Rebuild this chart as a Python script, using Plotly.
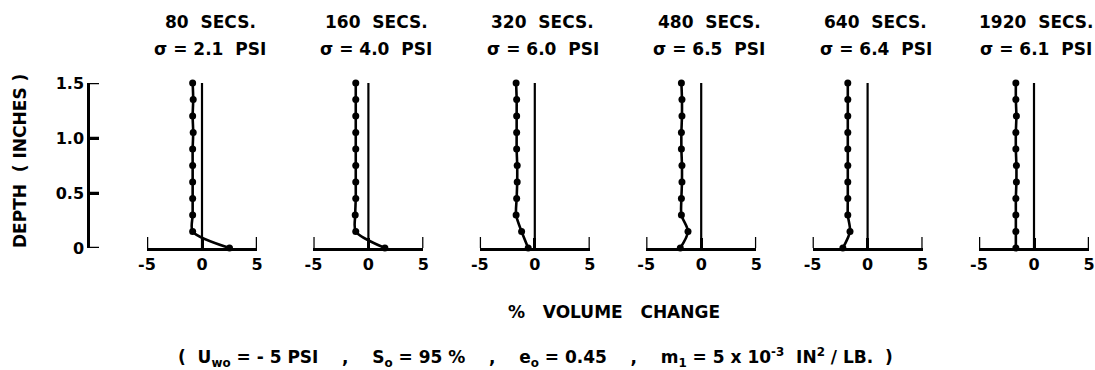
import plotly.graph_objects as go

W, H = 1095, 370

# ---- data ----
DEPTHS = [0.0, 0.15, 0.30, 0.45, 0.60, 0.75, 0.90, 1.05, 1.20, 1.35, 1.50]
TIMES = ["80", "160", "320", "480", "640", "1920"]
STRESS = ["2.1", "4.0", "6.0", "6.5", "6.4", "6.1"]

VOL_80 = [2.5, -0.85, -0.85, -0.85, -0.85, -0.85, -0.85, -0.8, -0.85, -0.8, -0.85]
VOL_160 = [1.5, -1.15, -1.2, -1.15, -1.15, -1.15, -1.15, -1.15, -1.15, -1.15, -1.15]
VOL_320 = [-0.6, -1.2, -1.7, -1.65, -1.6, -1.6, -1.65, -1.65, -1.65, -1.65, -1.7]
VOL_480 = [-1.9, -1.2, -1.8, -1.8, -1.75, -1.75, -1.8, -1.8, -1.75, -1.75, -1.8]
VOL_640 = [-2.25, -1.6, -1.8, -1.8, -1.8, -1.8, -1.8, -1.8, -1.8, -1.8, -1.8]
VOL_1920 = [-1.65, -1.65, -1.65, -1.65, -1.6, -1.6, -1.65, -1.65, -1.6, -1.65, -1.65]
SERIES = [VOL_80, VOL_160, VOL_320, VOL_480, VOL_640, VOL_1920]

REF_X = [0, 0]
REF_DEPTH = [0, 1.5]

X_TICKS = [-5, 0, 5]
X_TICK_TEXT = ["-5", "0", "5"]
Y_TICKS = [0, 0.5, 1.0, 1.5]
Y_TICK_TEXT = ["0", "0.5", "1.0", "1.5"]

# ---- layout geometry (pixels) ----
PANEL_LEFT0 = 147
PANEL_STEP = 166.4
PANEL_W = 110
Y_TOP_PX, Y_BOT_PX = 83, 248
YAXIS_X_PX = 90
END_TICK_DEPTH = 0.1      # height of the upturned end ticks (data units)
Y_TICK_FRAC = 0.45        # length of depth ticks in the narrow axis' units

FONT = "DejaVu Sans"
fnt = lambda s: dict(family=FONT, size=s, color="black", weight="bold")

fig = go.Figure()
layout = dict(
    template="none",
    width=W, height=H,
    margin=dict(l=0, r=0, t=0, b=0, pad=0),
    paper_bgcolor="white", plot_bgcolor="rgba(0,0,0,0)",
    showlegend=False,
    font=fnt(16),
)

ydom = [(H - Y_BOT_PX) / H, (H - Y_TOP_PX) / H]

annotations = []
for i, vals in enumerate(SERIES):
    n = "" if i == 0 else str(i + 1)
    left = PANEL_LEFT0 + i * PANEL_STEP
    right = left + PANEL_W
    layout[f"xaxis{n}"] = dict(
        domain=[left / W, right / W], range=[X_TICKS[0], X_TICKS[-1]], anchor=f"y{n}",
        showline=True, linecolor="black", linewidth=2.5,
        ticks="inside", ticklen=10, tickwidth=2.5, tickcolor="black",
        tickvals=X_TICKS, ticktext=X_TICK_TEXT, tickfont=fnt(16),
        showgrid=False, zeroline=False, automargin=False,
    )
    layout[f"yaxis{n}"] = dict(
        domain=ydom, range=[Y_TICKS[0], Y_TICKS[-1]], anchor=f"x{n}",
        showline=False, ticks="", showticklabels=False,
        showgrid=False, zeroline=False, automargin=False,
    )
    # upturned end ticks of the volume axis
    fig.add_trace(go.Scatter(
        x=[X_TICKS[0], X_TICKS[0], None, X_TICKS[-1], X_TICKS[-1]],
        y=[0, END_TICK_DEPTH, None, 0, END_TICK_DEPTH],
        xaxis=f"x{n}", yaxis=f"y{n}", mode="lines",
        line=dict(color="black", width=2.5), cliponaxis=False, hoverinfo="skip",
    ))
    fig.add_trace(go.Scatter(
        x=REF_X, y=REF_DEPTH, xaxis=f"x{n}", yaxis=f"y{n}", mode="lines",
        line=dict(color="black", width=2.2), cliponaxis=False, hoverinfo="skip",
    ))
    fig.add_trace(go.Scatter(
        x=vals, y=DEPTHS, xaxis=f"x{n}", yaxis=f"y{n}", mode="lines+markers",
        line=dict(color="black", width=2.6, shape="spline", smoothing=0.8),
        marker=dict(color="black", size=7),
        cliponaxis=False,
    ))
    cx = min((left + right) / 2 + 8, 1036)
    annotations.append(dict(
        x=cx / W, y=(H - 22) / H, xref="paper", yref="paper",
        text=f"{TIMES[i]}\u00a0\u00a0SECS.", showarrow=False,
        font=fnt(17), xanchor="center", yanchor="middle",
    ))
    annotations.append(dict(
        x=cx / W, y=(H - 49) / H, xref="paper", yref="paper",
        text=f"σ = {STRESS[i]}\u00a0\u00a0PSI", showarrow=False,
        font=fnt(17), xanchor="center", yanchor="middle",
    ))

# separate depth axis on the far left (its own narrow hidden x axis)
layout["xaxis7"] = dict(
    domain=[YAXIS_X_PX / W, (YAXIS_X_PX + 20) / W], range=[0, 1], anchor="y7",
    visible=False, automargin=False,
)
layout["yaxis7"] = dict(
    domain=ydom, range=[Y_TICKS[0], Y_TICKS[-1]], anchor="x7", side="left",
    showline=True, linecolor="black", linewidth=2.5,
    ticks="inside", ticklen=9, tickwidth=2.5, tickcolor="black",
    tickvals=Y_TICKS, ticktext=Y_TICK_TEXT, tickfont=fnt(16),
    showgrid=False, zeroline=False, automargin=False,
)
ytx, yty = [], []
for v in Y_TICKS:
    ytx += [0, Y_TICK_FRAC, None]
    yty += [v, v, None]
fig.add_trace(go.Scatter(
    x=ytx, y=yty, xaxis="x7", yaxis="y7", mode="lines",
    line=dict(color="black", width=2.5), cliponaxis=False, hoverinfo="skip",
))

annotations.append(dict(
    x=20 / W, y=(H - 161) / H, xref="paper", yref="paper",
    text="DEPTH\u00a0\u00a0(\u00a0INCHES\u00a0)", textangle=-90, showarrow=False,
    font=fnt(17), xanchor="center", yanchor="middle",
))
annotations.append(dict(
    x=614 / W, y=(H - 312) / H, xref="paper", yref="paper",
    text="%\u00a0\u00a0\u00a0VOLUME\u00a0\u00a0\u00a0CHANGE", showarrow=False,
    font=fnt(17), xanchor="center", yanchor="middle",
))
sp2 = "\u00a0\u00a0"
sp4 = "\u00a0\u00a0\u00a0\u00a0"
annotations.append(dict(
    x=535 / W, y=(H - 357) / H, xref="paper", yref="paper",
    text=(f"({sp2}U<sub>wo</sub> = - 5 PSI{sp4},{sp4}S<sub>o</sub> = 95 %{sp4},"
          f"{sp4}e<sub>o</sub> = 0.45{sp4},{sp4}m<sub>1</sub> = 5 x 10<sup>-3</sup>"
          f"{sp2}IN<sup>2</sup> / LB.{sp2})"),
    showarrow=False, font=fnt(17), xanchor="center", yanchor="middle",
))
layout["annotations"] = annotations
fig.update_layout(**layout)
fig.write_html("out.html")
